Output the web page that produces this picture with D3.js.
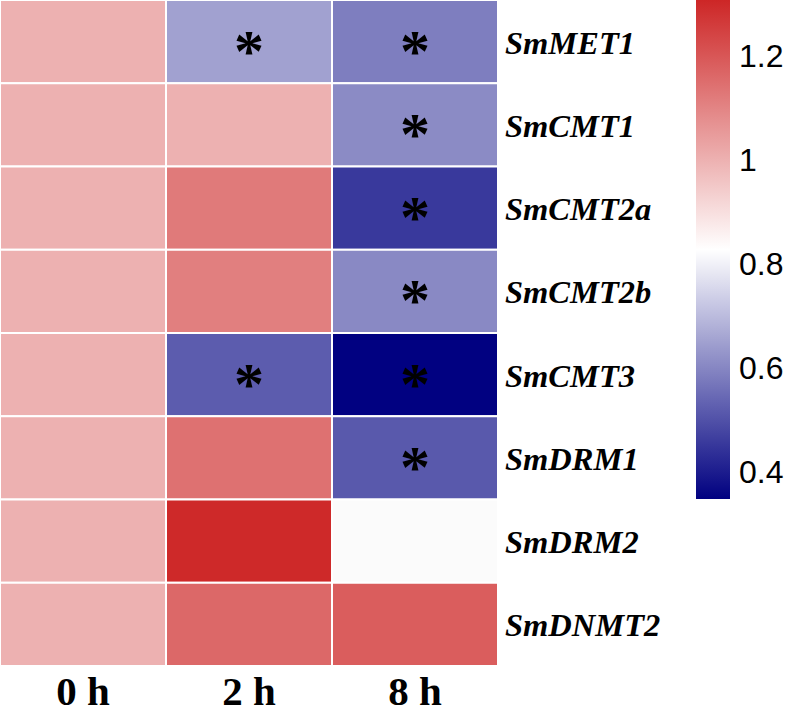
<!DOCTYPE html>
<html><head><meta charset="utf-8">
<script src="https://cdn.jsdelivr.net/npm/d3@7"></script>
<style>body{margin:0;background:#fff}svg{display:block}</style>
</head><body>
<script>
const genes = ["SmMET1","SmCMT1","SmCMT2a","SmCMT2b","SmCMT3","SmDRM1","SmDRM2","SmDNMT2"];
const times = ["0 h","2 h","8 h"];
const v0h = [1.0,1.0,1.0,1.0,1.0,1.0,1.0,1.0];
const v2h = [0.65,1.0,1.12,1.11,0.52,1.14,1.30,1.16];
const v8h = [0.585,0.61,0.455,0.605,0.35,0.515,0.83,1.185];
const sig2h = [1,0,0,0,1,0,0,0];
const sig8h = [1,1,1,1,1,1,0,0];
const legendTicks = [0.4,0.6,0.8,1,1.2];
const legendMin = 0.348, legendMax = 1.306;

const W=788,H=708;
const svg=d3.select("body").append("svg").attr("width",W).attr("height",H);
const cols=[v0h,v2h,v8h], sigs=[null,sig2h,sig8h];
const cells=[];
genes.forEach((g,i)=>times.forEach((t,j)=>cells.push({g,t,v:cols[j][i],s:sigs[j]?sigs[j][i]:0})));

const x=d3.scaleBand().domain(times).range([0,498]).padding(0);
const y=d3.scaleBand().domain(genes).range([0,666]).padding(0);
const mid=(legendMin+legendMax)/2;
const color=d3.scaleLinear().domain([legendMin,mid,legendMax]).range(["#000080","#ffffff","#cd2626"]).clamp(true);

svg.append("g").selectAll("rect").data(cells).join("rect")
 .attr("x",d=>x(d.t)).attr("y",d=>y(d.g))
 .attr("width",x.bandwidth()).attr("height",y.bandwidth())
 .attr("fill",d=>d.t==="8 h"&&d.g==="SmDRM2"?"#fbfbfb":color(d.v)).attr("stroke","#fff").attr("stroke-width",2);

svg.append("g").selectAll("text").data(cells.filter(d=>d.s)).join("text")
 .attr("x",d=>x(d.t)+x.bandwidth()/2).attr("y",d=>y(d.g)+y.bandwidth()/2+29)
 .attr("text-anchor","middle").attr("font-family","'Liberation Serif',serif").attr("font-weight","bold")
 .attr("font-size",60).attr("fill","#000").text("*");

svg.append("g").selectAll("text").data(genes).join("text")
 .attr("x",505).attr("y",d=>y(d)+y.bandwidth()/2+12)
 .attr("font-family","'Liberation Serif',serif").attr("font-style","italic").attr("font-weight","bold")
 .attr("font-size",32.5).attr("fill","#000").text(d=>d);

svg.append("g").selectAll("text").data(times).join("text")
 .attr("x",d=>x(d)+x.bandwidth()/2).attr("y",705)
 .attr("text-anchor","middle").attr("font-family","'Liberation Serif',serif").attr("font-weight","bold")
 .attr("font-size",41).attr("fill","#000").text(d=>d);

// legend
const ly=d3.scaleLinear().domain([legendMin,legendMax]).range([499,0]);
const defs=svg.append("defs");
const grad=defs.append("linearGradient").attr("id","lg").attr("x1",0).attr("x2",0).attr("y1",1).attr("y2",0);
d3.range(0,1.0001,0.05).forEach(f=>grad.append("stop").attr("offset",f).attr("stop-color",color(legendMin+f*(legendMax-legendMin))));
svg.append("rect").attr("x",696).attr("y",ly(legendMax)).attr("width",34).attr("height",ly(legendMin)-ly(legendMax)).attr("fill","url(#lg)");
svg.append("g").selectAll("text").data(legendTicks).join("text")
 .attr("x",739).attr("y",d=>ly(d)+11.5)
 .attr("font-family","'Liberation Sans',Arial,sans-serif").attr("font-size",32).attr("fill","#000")
 .text(d=>d);
</script>
</body></html>
